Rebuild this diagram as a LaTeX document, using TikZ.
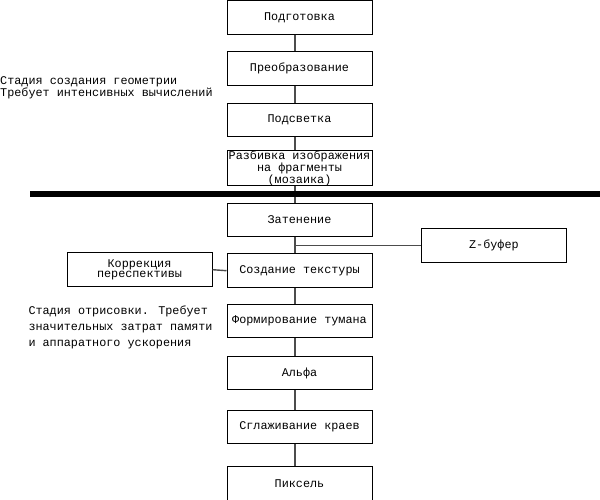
\documentclass[tikz,border=0pt]{standalone}
\usepackage{fontspec}
\setmainfont{Liberation Mono}
\begin{document}
\begin{tikzpicture}[x=1pt, y=-1pt,
    every node/.style={font=\fontsize{11.8}{10.3}\selectfont},
    stage/.style={draw, line width=1pt, minimum width=145pt, minimum height=33.5pt, inner sep=0pt, align=center},
    link/.style={draw=black!70, line width=1.4pt},
    note/.style={anchor=west, align=left, inner sep=0pt}]
  \useasboundingbox (0,0) rectangle (600,500);
  \coordinate (sp) at (295,0);

  % geometry stage
  \node[stage] (podg)  at (299.5,17.5)  {Подготовка};
  \node[stage] (preob) at (299.5,68.3)  {Преобразование};
  \node[stage] (podsv) at (299.5,120)   {Подсветка};
  \node[stage] (razb)  at (299.5,168.3) {Разбивка изображения\\на фрагменты\\(мозаика)};

  % rendering stage
  \node[stage] (zaten)  at (299.5,220)   {Затенение};
  \node[stage] (tekst)  at (299.5,270.7) {Создание текстуры};
  \node[stage] (tuman)  at (299.5,321)   {Формирование тумана};
  \node[stage] (alfa)   at (299.5,373)   {Альфа};
  \node[stage] (sglazh) at (299.5,427)   {Сглаживание краев};
  \node[stage] (piks)   at (299.5,483.7) {Пиксель};

  \node[stage] (zbuf) at (493.9,245.5) {Z-буфер};
  \node[stage] (korr) at (139.5,269.7) {Коррекция\\переспективы};

  \node[note, font=\fontsize{11.8}{11}\selectfont] (geom) at (0,88)
    {Стадия создания геометрии\\Требует интенсивных вычислений};
  \node[note, font=\fontsize{11.8}{16}\selectfont] (otris) at (28.3,327.3)
    {Стадия отрисовки. Требует\\значительных затрат памяти\\и аппаратного ускорения};

  \foreach \a/\b in {podg/preob, preob/podsv, podsv/razb, razb/zaten,
                     zaten/tekst, tekst/tuman, tuman/alfa, alfa/sglazh, sglazh/piks}
    \draw[link] (\a.south -| sp) -- (\b.north -| sp);
  \coordinate (zb) at (sp |- zbuf.west);
  \draw[link] (zb) -- (zbuf.west);
  \draw[link] (korr.east) -- (tekst.west);

  % boundary between the stages
  \fill (30,190.8) rectangle (600,197.3);
\end{tikzpicture}
\end{document}
